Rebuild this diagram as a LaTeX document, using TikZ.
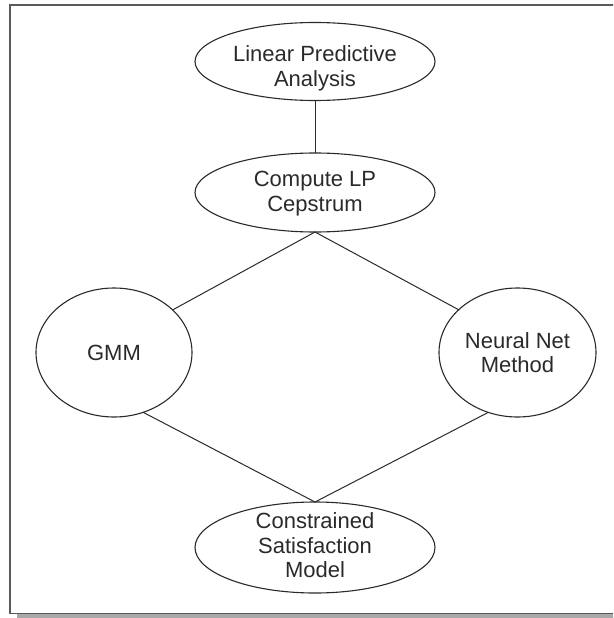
\documentclass[tikz,border=0pt]{standalone}
\usepackage{fontspec}
\setmainfont{Liberation Sans}
\usetikzlibrary{shapes.geometric}
\definecolor{ink}{HTML}{2A2A2A}
\definecolor{framec}{HTML}{5A5A5A}
\definecolor{shadowc}{HTML}{A8A8A8}
\begin{document}
\begin{tikzpicture}[x=1pt,y=-1pt,
  stage/.style={shape=ellipse,draw=ink,line width=1.1pt,inner sep=0pt,outer sep=0pt,
    align=center,text=ink,font=\fontsize{22}{24.5}\selectfont},
  link/.style={draw=ink,line width=1pt}]
  \clip (0,0) rectangle (613,618);
  % outer frame with its drop shadow
  \fill[shadowc] (17,614) rectangle (620,618.5);
  \draw[framec,line width=1.8pt] (10,5) rectangle (625,613.5);
  % processing stages (text height/depth place the last baseline inside each ellipse)
  \node[stage,minimum width=240pt,minimum height=78pt,text height=49.4pt,text depth=0pt]
    (lpa) at (315,61.5) {Linear Predictive\\Analysis};
  \node[stage,minimum width=240pt,minimum height=79pt,text height=37pt,text depth=0pt]
    (cep) at (315,192.5) {Compute LP\\Cepstrum};
  \node[stage,minimum width=156pt,minimum height=129pt,text height=18pt,text depth=1.6pt]
    (gmm) at (114,352.5) {GMM};
  \node[stage,minimum width=157pt,minimum height=129pt,text height=40.4pt,text depth=0pt]
    (nn) at (517.5,352.5) {Neural Net\\Method};
  \node[stage,minimum width=240pt,minimum height=91pt,text height=60pt,text depth=-10.4pt]
    (csm) at (315,547.5) {Constrained\\Satisfaction\\Model};
  % connections
  \draw[link] (lpa) -- (cep);
  \draw[link] (cep.south) -- (gmm.36);
  \draw[link] (cep.south) -- (nn.144);
  \draw[link] (gmm.-64) -- (csm.north);
  \draw[link] (nn.-116) -- (csm.north);
\end{tikzpicture}
\end{document}
